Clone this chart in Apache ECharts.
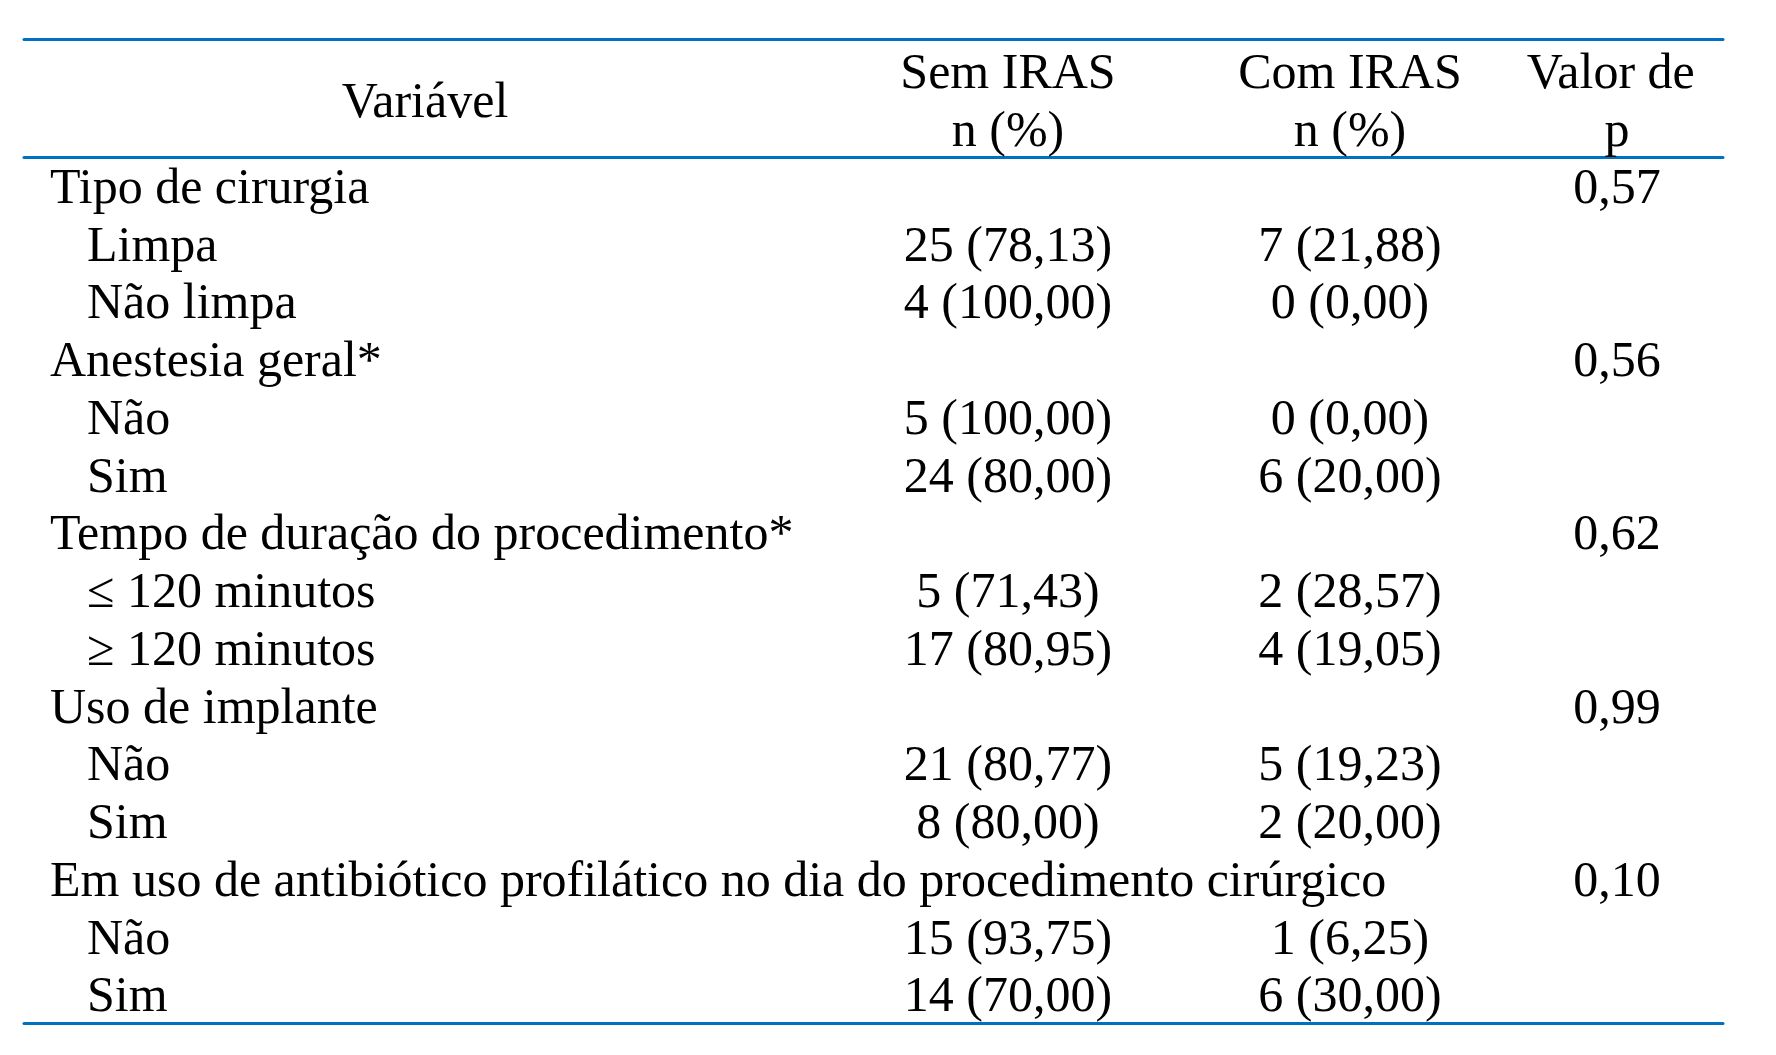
<!DOCTYPE html>
<html>
<head>
<meta charset="utf-8">
<script src="https://cdn.jsdelivr.net/npm/echarts@6/dist/echarts.min.js"></script>
<style>
html,body{margin:0;padding:0;background:#ffffff;}
#chart{width:1776px;height:1055px;}
</style>
</head>
<body>
<div id="chart"></div>
<script>
// ---- data ----
const rowLabels = [
  'Tipo de cirurgia', 'Limpa', 'Não limpa',
  'Anestesia geral*', 'Não', 'Sim',
  'Tempo de duração do procedimento*', '≤ 120 minutos', '≥ 120 minutos',
  'Uso de implante', 'Não', 'Sim',
  'Em uso de antibiótico profilático no dia do procedimento cirúrgico', 'Não', 'Sim'
];
const rowIsGroup = [1,0,0, 1,0,0, 1,0,0, 1,0,0, 1,0,0];
const semN   = [null, 25, 4,   null, 5, 24,   null, 5, 17,      null, 21, 8,      null, 15, 14];
const semPct = [null, 78.13, 100, null, 100, 80, null, 71.43, 80.95, null, 80.77, 80, null, 93.75, 70];
const comN   = [null, 7, 0,    null, 0, 6,    null, 2, 4,       null, 5, 2,       null, 1, 6];
const comPct = [null, 21.88, 0, null, 0, 20,  null, 28.57, 19.05, null, 19.23, 20, null, 6.25, 30];
const pValues = [0.57, null, null, 0.56, null, null, 0.62, null, null, 0.99, null, null, 0.10, null, null];
const headers = ['Variável', 'Sem IRAS\nn (%)', 'Com IRAS\nn (%)', 'Valor de \np'];

// ---- helpers ----
const FONT = 'Liberation Serif';
const FS = 50;
const BLUE = '#0070C0';
const fmt = v => v.toFixed(2).replace('.', ',');
const cellText = (n, pct) => (n == null ? null : n + ' (' + fmt(pct) + ')');
const semText = semN.map((n, i) => cellText(n, semPct[i]));
const comText = comN.map((n, i) => cellText(n, comPct[i]));
const pText = pValues.map(v => (v == null ? null : fmt(v)));
const toPoints = arr => arr.map((t, i) => (t == null ? null : {value: [0, i], text: t})).filter(d => d);

const hiddenCat = (extra) => Object.assign({
  type: 'category', show: true,
  axisLine: {show: false}, axisTick: {show: false}, axisLabel: {show: false}, splitLine: {show: false}
}, extra);

const ruleAxis = (gridIndex, position) => ({
  type: 'category', gridIndex, position, data: [''],
  axisLine: {show: true, lineStyle: {color: BLUE, width: 3}},
  axisTick: {show: false}, axisLabel: {show: false}, splitLine: {show: false}
});

const headerAxis = (gridIndex, label, extra) => ({
  type: 'category', gridIndex, position: 'top', data: [label],
  axisLine: {show: false}, axisTick: {show: false}, splitLine: {show: false},
  axisLabel: Object.assign({
    show: true, interval: 0, color: '#000', fontFamily: FONT, fontSize: FS,
    lineHeight: 58, align: 'center', margin: -5
  }, extra)
});

const rowIdx = rowLabels.map((_, i) => String(i));

const colSeries = (xi, yi, texts) => ({
  type: 'scatter', xAxisIndex: xi, yAxisIndex: yi,
  symbol: 'circle', symbolSize: 0, itemStyle: {color: 'rgba(0,0,0,0)', opacity: 1}, silent: true,
  data: toPoints(texts),
  label: {
    show: true, position: 'inside', offset: [0, 4],
    formatter: p => p.data.text,
    color: '#000', opacity: 1, fontFamily: FONT, fontSize: FS
  }
});

const option = {
  backgroundColor: '#ffffff',
  animation: false,
  grid: [
    {left: 24, right: 53, top: 39, bottom: 32},      // frame (top rule)
    {left: 24, right: 53, top: 157, bottom: 32},     // body (header rule + bottom rule)
    {left: 24, width: 802, top: 157, bottom: 32},    // Variável column
    {left: 858, width: 300, top: 157, bottom: 32},   // Sem IRAS
    {left: 1200, width: 300, top: 157, bottom: 32},  // Com IRAS
    {left: 1467, width: 300, top: 157, bottom: 32}   // Valor de p
  ],
  xAxis: [
    ruleAxis(0, 'top'),
    ruleAxis(1, 'top'),
    ruleAxis(1, 'bottom'),
    headerAxis(2, headers[0], {verticalAlign: 'middle', margin: 53}),
    headerAxis(3, headers[1]),
    headerAxis(4, headers[2]),
    headerAxis(5, headers[3])
  ],
  yAxis: [
    hiddenCat({gridIndex: 0, data: ['']}),
    hiddenCat({gridIndex: 1, data: ['']}),
    {
      type: 'category', gridIndex: 2, inverse: true, data: rowLabels,
      axisLine: {show: false}, axisTick: {show: false}, splitLine: {show: false},
      axisLabel: {
        show: true, interval: 0, align: 'left', margin: -26,
        formatter: (value, index) => (rowIsGroup[index] ? '{g|' + value + '}' : '{s|' + value + '}'),
        rich: {
          g: {color: '#000', fontFamily: FONT, fontSize: FS, padding: [8, 0, 0, 0]},
          s: {color: '#000', fontFamily: FONT, fontSize: FS, padding: [8, 0, 0, 37]}
        }
      }
    },
    hiddenCat({gridIndex: 3, inverse: true, data: rowIdx}),
    hiddenCat({gridIndex: 4, inverse: true, data: rowIdx}),
    hiddenCat({gridIndex: 5, inverse: true, data: rowIdx})
  ],
  series: [
    colSeries(4, 3, semText),
    colSeries(5, 4, comText),
    colSeries(6, 5, pText)
  ]
};

const chart = echarts.init(document.getElementById('chart'), null, {renderer: 'canvas'});
chart.setOption(option);
</script>
</body>
</html>
